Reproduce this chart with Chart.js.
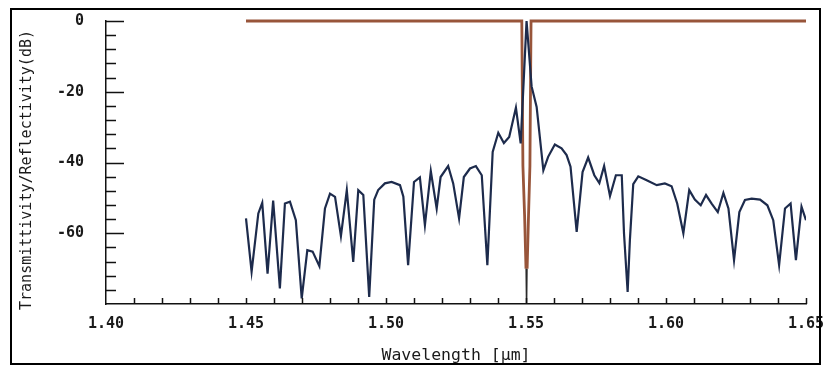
<!DOCTYPE html>
<html>
<head>
<meta charset="utf-8">
<script src="https://cdn.jsdelivr.net/npm/chart.js@4.4.1/dist/chart.umd.min.js"></script>
<style>
  html, body { margin: 0; padding: 0; background: #ffffff; }
  #wrap { width: 823px; height: 367px; position: relative; }
</style>
</head>
<body>
<div id="wrap"><canvas id="c" width="823" height="367"></canvas></div>
<script>
// Reflection spectrum of the grating (dB), sampled wavelengths in µm
const wavelength = [
  1.4500, 1.4520, 1.4544, 1.4558, 1.4577, 1.4597, 1.4621, 1.4639, 1.4657, 1.4678,
  1.4699, 1.4719, 1.4738, 1.4762, 1.4782, 1.4800, 1.4818, 1.4839, 1.4860, 1.4883,
  1.4901, 1.4919, 1.4940, 1.4958, 1.4972, 1.4996, 1.5020, 1.5050, 1.5062, 1.5079,
  1.5100, 1.5121, 1.5139, 1.5160, 1.5181, 1.5195, 1.5222, 1.5240, 1.5261, 1.5278,
  1.5300, 1.5321, 1.5342, 1.5362, 1.5381, 1.5401, 1.5421, 1.5440, 1.5464, 1.5481,
  1.5502, 1.5520, 1.5538, 1.5562, 1.5579, 1.5603, 1.5627, 1.5645, 1.5659, 1.5681,
  1.5702, 1.5722, 1.5744, 1.5762, 1.5779, 1.5800, 1.5821, 1.5842, 1.5850, 1.5863,
  1.5871, 1.5883, 1.5901, 1.5931, 1.5967, 1.5996, 1.6020, 1.6040, 1.6062, 1.6083,
  1.6103, 1.6124, 1.6143, 1.6163, 1.6185, 1.6205, 1.6223, 1.6243, 1.6262, 1.6282,
  1.6306, 1.6336, 1.6362, 1.6383, 1.6404, 1.6425, 1.6445, 1.6464, 1.6484, 1.6500
];
const reflectivity = [
  -55.8, -70.9, -54.4, -51.4, -71.4, -50.8, -75.6, -51.6, -51.1, -56.3,
  -78.4, -64.8, -65.2, -69.3, -53.0, -48.8, -49.7, -60.8, -47.8, -68.1,
  -47.8, -49.2, -78.0, -50.5, -47.8, -45.9, -45.5, -46.4, -49.7, -69.0,
  -45.5, -44.2, -57.7, -42.4, -53.0, -44.1, -41.0, -45.9, -55.8, -44.1,
  -41.7, -41.0, -43.6, -69.0, -37.0, -31.6, -34.5, -32.8, -24.5, -34.6,
    0.0, -18.5, -24.3, -42.2, -38.4, -34.9, -36.0, -37.9, -41.2, -59.6,
  -42.7, -38.6, -43.6, -45.8, -41.0, -49.5, -43.6, -43.6, -60.0, -76.6,
  -62.0, -46.1, -43.9, -45.0, -46.4, -45.9, -46.7, -51.6, -60.0, -47.8,
  -50.5, -52.1, -49.2, -51.6, -54.0, -48.6, -53.0, -67.6, -54.0, -50.6,
  -50.2, -50.5, -52.1, -56.3, -69.0, -53.0, -51.6, -67.6, -52.5, -56.3
];

// Transmission spectrum (dB): flat pass band with the Bragg notch
const transWavelength = [1.4500, 1.5485, 1.5489, 1.5495, 1.5500, 1.5502, 1.5504, 1.5509, 1.5514, 1.5518, 1.6500];
const transmittivity  = [0, 0, -41, -55, -70, -84, -70, -55, -41, 0, 0];

// Axis ticks
const xTickLabels = ['1.40', '1.45', '1.50', '1.55', '1.60', '1.65'];
const yTickLabels = [0, -20, -40, -60];

const toPoints = (xs, ys) => xs.map((x, i) => ({ x: x, y: ys[i] }));

const MONO = '"DejaVu Sans Mono", "Liberation Mono", monospace';

// Outer frame, inward tick marks and the rotated y title
const decor = {
  id: 'decor',
  beforeDraw(chart) {
    const ctx = chart.ctx;
    ctx.save();
    ctx.fillStyle = '#ffffff';
    ctx.fillRect(0, 0, chart.width, chart.height);
    ctx.restore();
  },
  afterDraw(chart) {
    const ctx = chart.ctx;
    const xs = chart.scales.x, ys = chart.scales.y;
    const area = chart.chartArea;
    ctx.save();
    ctx.strokeStyle = '#111111';
    ctx.lineWidth = 1.5;
    ctx.beginPath();
    ys.ticks.forEach(t => {
      if (t.value <= -80) return;
      const py = Math.round(ys.getPixelForValue(t.value)) + 0.5;
      const len = (t.value % 20 === 0) ? 18 : 10;
      ctx.moveTo(area.left, py);
      ctx.lineTo(area.left + len, py);
    });
    xs.ticks.forEach(t => {
      if (t.value <= 1.4001) return;
      const px = Math.round(xs.getPixelForValue(t.value)) + 0.5;
      ctx.moveTo(px, area.bottom);
      ctx.lineTo(px, area.bottom - 6);
    });
    ctx.stroke();

    // frame around the figure
    ctx.lineWidth = 2;
    ctx.strokeStyle = '#000000';
    ctx.strokeRect(11, 9, 809, 355);

    // y axis title
    ctx.fillStyle = '#1a1a1a';
    ctx.font = '15px ' + MONO;
    ctx.textAlign = 'center';
    ctx.textBaseline = 'middle';
    ctx.translate(27, 170);
    ctx.rotate(-Math.PI / 2);
    ctx.fillText('Transmittivity/Reflectivity(dB)', 0, 0);
    ctx.restore();
  }
};

const bottomSeg = ctx => (ctx.p0DataIndex === 4 || ctx.p0DataIndex === 5);

new Chart(document.getElementById('c'), {
  type: 'line',
  data: {
    datasets: [
      {
        label: 'Reflectivity',
        data: toPoints(wavelength, reflectivity),
        borderColor: '#1d2b4c',
        borderWidth: 2.2,
        pointRadius: 0,
        tension: 0,
        order: 0
      },
      {
        label: 'Transmittivity',
        data: toPoints(transWavelength, transmittivity),
        borderColor: '#98553a',
        borderWidth: 2.8,
        pointRadius: 0,
        tension: 0,
        order: 1,
        clip: { left: 5, right: 5, top: 5, bottom: 0 },
        segment: {
          borderColor: c => bottomSeg(c) ? '#2a2a2a' : undefined,
          borderWidth: c => bottomSeg(c) ? 1.2 : undefined
        }
      }
    ]
  },
  options: {
    responsive: false,
    animation: false,
    devicePixelRatio: 1,
    layout: { padding: { left: 0, right: 17, top: 21, bottom: 0 } },
    plugins: { legend: { display: false }, tooltip: { enabled: false } },
    scales: {
      x: {
        type: 'linear',
        min: 1.40,
        max: 1.65,
        afterFit: s => { s.height = 63; s.paddingLeft = 0; s.paddingRight = 0; },
        border: { display: true, color: '#111111', width: 1.5 },
        grid: { display: false, drawTicks: false },
        ticks: {
          stepSize: 0.01,
          autoSkip: false,
          maxRotation: 0,
          padding: 11,
          color: '#1a1a1a',
          font: { family: MONO, size: 15, weight: 'bold' },
          callback: v => {
            const lbl = v.toFixed(2);
            return xTickLabels.includes(lbl) ? lbl : '';
          }
        },
        title: {
          display: true,
          text: 'Wavelength [µm]',
          color: '#1a1a1a',
          font: { family: MONO, size: 16.5 },
          padding: { top: 0, bottom: 1 }
        }
      },
      y: {
        type: 'linear',
        min: -80,
        max: 0,
        afterFit: s => { s.width = 106; s.paddingTop = 0; s.paddingBottom = 0; },
        border: { display: true, color: '#111111', width: 1.5 },
        grid: { display: false, drawTicks: false },
        ticks: {
          stepSize: 4,
          autoSkip: false,
          padding: 22,
          color: '#1a1a1a',
          font: { family: MONO, size: 15, weight: 'bold' },
          callback: v => yTickLabels.includes(v) ? String(v) : ''
        }
      }
    }
  },
  plugins: [decor]
});
</script>
</body>
</html>
